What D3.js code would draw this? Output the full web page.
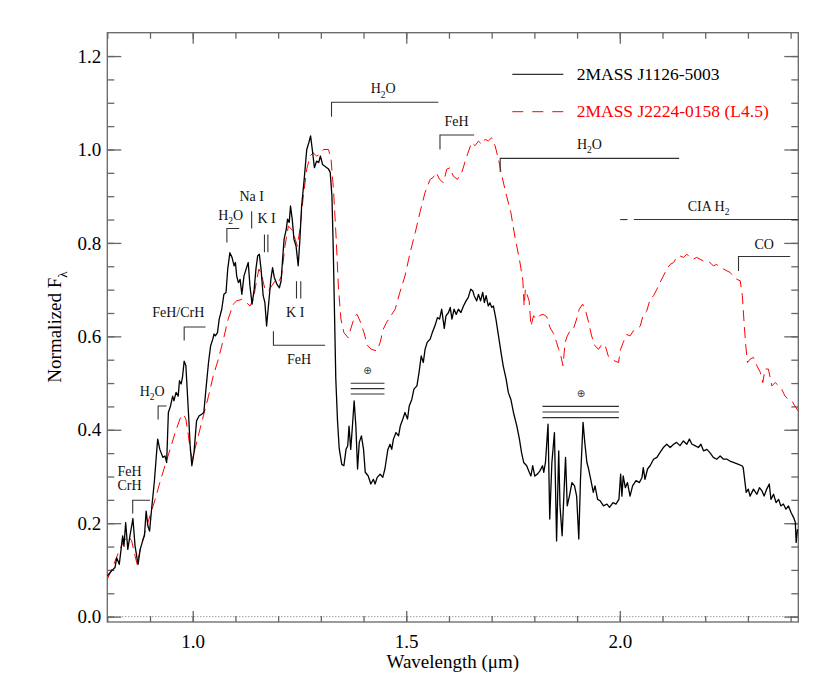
<!DOCTYPE html>
<html>
<head>
<meta charset="utf-8">
<script src="https://cdn.jsdelivr.net/npm/d3@7"></script>
<style>
  body { margin: 0; background: #fff; }
</style>
</head>
<body>
<div class="chart"></div>
<script>
// spectra (wavelength in micron, normalized flux)
var blackWave = [0.800,0.810,0.818,0.822,0.828,0.836,0.839,0.843,0.848,0.853,0.860,0.865,0.872,0.877,0.884,0.887,0.891,0.895,0.899,0.904,
  0.910,0.916,0.918,0.923,0.930,0.935,0.939,0.943,0.948,0.953,0.956,0.961,0.966,0.969,0.973,0.976,0.980,0.984,0.990,0.994,
  0.998,1.003,1.009,1.015,1.021,1.026,1.031,1.037,1.042,1.047,1.050,1.053,1.058,1.062,1.068,1.073,1.078,1.082,1.087,1.092,
  1.097,1.100,1.103,1.107,1.111,1.115,1.120,1.125,1.130,1.134,1.139,1.144,1.148,1.152,1.156,1.160,1.165,1.169,1.173,1.178,
  1.183,1.187,1.191,1.197,1.203,1.207,1.211,1.214,1.219,1.222,1.226,1.229,1.233,1.237,1.242,1.247,1.251,1.255,1.261,1.267,
  1.272,1.276,1.280,1.285,1.290,1.295,1.299,1.304,1.308,1.314,1.318,1.322,1.326,1.329,1.332,1.335,1.339,1.343,1.349,1.354,
  1.359,1.363,1.366,1.370,1.374,1.378,1.382,1.386,1.390,1.395,1.400,1.404,1.411,1.417,1.423,1.427,1.432,1.439,1.445,1.450,
  1.457,1.462,1.466,1.470,1.476,1.482,1.486,1.492,1.497,1.503,1.507,1.513,1.518,1.525,1.530,1.535,1.540,1.544,1.549,1.556,
  1.561,1.567,1.573,1.578,1.583,1.589,1.593,1.599,1.603,1.607,1.612,1.617,1.622,1.628,1.634,1.640,1.645,1.651,1.656,1.659,
  1.665,1.669,1.674,1.679,1.683,1.687,1.692,1.696,1.700,1.704,1.710,1.716,1.722,1.727,1.734,1.739,1.745,1.751,1.759,1.765,
  1.770,1.775,1.782,1.788,1.792,1.796,1.801,1.807,1.813,1.819,1.822,1.826,1.832,1.836,1.841,1.847,1.852,1.857,1.860,1.865,
  1.869,1.873,1.877,1.882,1.888,1.894,1.899,1.904,1.908,1.914,1.918,1.923,1.927,1.932,1.938,1.942,1.948,1.954,1.962,1.970,
  1.976,1.984,1.991,1.998,2.002,2.005,2.008,2.013,2.018,2.024,2.030,2.038,2.046,2.052,2.055,2.059,2.065,2.071,2.079,2.087,
  2.094,2.102,2.110,2.118,2.126,2.133,2.141,2.149,2.157,2.163,2.169,2.176,2.184,2.190,2.196,2.204,2.211,2.219,2.227,2.235,
  2.243,2.251,2.258,2.266,2.278,2.286,2.289,2.296,2.301,2.305,2.313,2.321,2.327,2.333,2.338,2.344,2.350,2.354,2.360,2.366,
  2.372,2.377,2.383,2.389,2.395,2.401,2.407,2.411,2.413,2.416];
var blackFlux = [0.087,0.098,0.105,0.126,0.112,0.173,0.151,0.201,0.144,0.173,0.210,0.151,0.112,0.144,0.166,0.173,0.226,0.194,0.183,0.233,
  0.287,0.358,0.380,0.358,0.341,0.344,0.330,0.437,0.451,0.472,0.462,0.480,0.472,0.505,0.498,0.512,0.547,0.537,0.437,0.366,
  0.323,0.351,0.419,0.430,0.433,0.437,0.487,0.544,0.580,0.594,0.605,0.601,0.608,0.637,0.658,0.690,0.694,0.744,0.779,0.769,
  0.751,0.758,0.729,0.715,0.722,0.690,0.729,0.744,0.758,0.708,0.669,0.701,0.744,0.772,0.776,0.744,0.687,0.672,0.622,0.672,
  0.722,0.747,0.726,0.712,0.704,0.719,0.772,0.808,0.829,0.851,0.844,0.879,0.851,0.808,0.793,0.751,0.808,0.879,0.936,1.000,
  1.015,1.029,1.000,0.961,0.975,0.972,0.986,0.968,0.965,0.961,0.958,0.951,0.900,0.790,0.650,0.510,0.420,0.360,0.326,0.323,
  0.358,0.366,0.408,0.358,0.408,0.462,0.408,0.316,0.373,0.387,0.358,0.309,0.301,0.284,0.294,0.284,0.298,0.305,0.298,0.316,
  0.358,0.369,0.358,0.380,0.394,0.387,0.408,0.423,0.437,0.423,0.451,0.465,0.487,0.494,0.523,0.558,0.544,0.572,0.587,0.594,
  0.608,0.622,0.640,0.637,0.658,0.617,0.644,0.651,0.662,0.637,0.658,0.647,0.658,0.651,0.665,0.676,0.683,0.701,0.697,0.687,
  0.676,0.690,0.676,0.694,0.672,0.687,0.665,0.672,0.662,0.665,0.637,0.601,0.565,0.537,0.508,0.480,0.465,0.437,0.408,0.380,
  0.351,0.330,0.323,0.309,0.301,0.323,0.301,0.305,0.312,0.323,0.309,0.330,0.412,0.209,0.330,0.394,0.162,0.355,0.237,0.173,
  0.258,0.341,0.237,0.258,0.287,0.280,0.258,0.166,0.294,0.416,0.373,0.330,0.316,0.294,0.266,0.280,0.251,0.248,0.237,0.241,
  0.234,0.244,0.241,0.251,0.305,0.258,0.301,0.276,0.287,0.258,0.280,0.291,0.287,0.298,0.319,0.294,0.316,0.323,0.337,0.341,
  0.351,0.362,0.369,0.362,0.369,0.373,0.366,0.376,0.369,0.380,0.369,0.366,0.362,0.369,0.355,0.358,0.351,0.341,0.337,0.344,
  0.337,0.337,0.333,0.330,0.326,0.323,0.319,0.266,0.273,0.258,0.273,0.262,0.276,0.269,0.258,0.273,0.284,0.251,0.262,0.244,
  0.251,0.237,0.241,0.230,0.237,0.223,0.212,0.202,0.159,0.187];

var redWave = [0.800,0.814,0.826,0.837,0.849,0.857,0.865,0.870,0.877,0.888,0.900,0.912,0.923,0.935,0.947,0.959,0.970,0.978,0.984,0.990,
  0.995,1.000,1.005,1.013,1.025,1.037,1.048,1.060,1.072,1.083,1.095,1.103,1.115,1.126,1.134,1.142,1.150,1.155,1.162,1.169,
  1.177,1.185,1.193,1.200,1.208,1.216,1.224,1.232,1.240,1.245,1.251,1.259,1.267,1.275,1.282,1.290,1.298,1.306,1.318,1.324,
  1.330,1.336,1.341,1.347,1.354,1.364,1.372,1.380,1.385,1.393,1.401,1.409,1.419,1.431,1.439,1.446,1.454,1.464,1.474,1.485,
  1.497,1.509,1.521,1.532,1.544,1.556,1.563,1.570,1.578,1.587,1.595,1.603,1.610,1.620,1.630,1.642,1.653,1.661,1.669,1.677,
  1.685,1.692,1.700,1.708,1.716,1.724,1.735,1.745,1.755,1.765,1.773,1.776,1.779,1.788,1.792,1.798,1.806,1.813,1.821,1.829,
  1.837,1.845,1.852,1.857,1.862,1.867,1.872,1.877,1.884,1.891,1.899,1.905,1.913,1.921,1.927,1.934,1.942,1.950,1.958,1.966,
  1.973,1.981,1.989,1.997,2.002,2.008,2.016,2.024,2.032,2.040,2.048,2.055,2.063,2.071,2.079,2.087,2.094,2.102,2.110,2.118,
  2.126,2.133,2.141,2.149,2.157,2.164,2.172,2.180,2.188,2.196,2.204,2.211,2.219,2.227,2.235,2.243,2.251,2.258,2.266,2.274,
  2.282,2.287,2.291,2.295,2.299,2.305,2.313,2.321,2.329,2.335,2.340,2.348,2.356,2.364,2.372,2.379,2.387,2.395,2.403,2.410,
  2.418];
var redFlux = [0.080,0.109,0.137,0.159,0.173,0.162,0.130,0.112,0.144,0.180,0.216,0.251,0.287,0.323,0.358,0.394,0.423,0.433,0.423,0.387,
  0.351,0.337,0.358,0.387,0.430,0.472,0.515,0.551,0.594,0.637,0.669,0.676,0.679,0.672,0.665,0.679,0.722,0.744,0.729,0.701,
  0.697,0.708,0.719,0.715,0.729,0.793,0.836,0.829,0.808,0.793,0.829,0.900,0.958,0.986,0.993,0.986,0.990,1.000,1.000,0.979,
  0.908,0.808,0.708,0.637,0.608,0.597,0.622,0.644,0.647,0.630,0.608,0.580,0.572,0.569,0.587,0.615,0.630,0.644,0.658,0.694,
  0.729,0.779,0.822,0.865,0.908,0.936,0.940,0.951,0.936,0.929,0.958,0.961,0.943,0.936,0.951,0.986,1.015,1.008,1.018,1.011,
  1.022,1.018,1.025,1.008,0.979,0.943,0.900,0.865,0.810,0.765,0.720,0.665,0.701,0.675,0.622,0.644,0.637,0.645,0.647,0.642,
  0.618,0.606,0.587,0.572,0.558,0.537,0.587,0.601,0.612,0.615,0.637,0.658,0.669,0.651,0.630,0.601,0.580,0.572,0.583,0.580,
  0.558,0.551,0.547,0.544,0.572,0.587,0.604,0.601,0.612,0.615,0.622,0.647,0.654,0.679,0.687,0.701,0.715,0.729,0.744,0.754,
  0.758,0.769,0.772,0.769,0.776,0.769,0.765,0.769,0.765,0.761,0.761,0.758,0.751,0.754,0.747,0.744,0.740,0.737,0.729,0.722,
  0.719,0.687,0.630,0.580,0.544,0.551,0.555,0.537,0.523,0.501,0.530,0.530,0.494,0.501,0.494,0.487,0.472,0.465,0.462,0.451,
  0.440];

var seriesNames = ["2MASS J1126-5003", "2MASS J2224-0158 (L4.5)"];
var seriesColors = ["#000000", "#ff0000"];

var xMajorTicks = [1.0, 1.5, 2.0];
var yMajorTicks = [0.0, 0.2, 0.4, 0.6, 0.8, 1.0, 1.2];

// feature brackets: [x1, x2, y, y of the end tick at x1]
var brackets = [
  [0.8595, 0.900, 0.249, 0.221],
  [0.919, 0.939, 0.451, 0.422],
  [0.980, 1.030, 0.620, 0.591],
  [1.080, 1.109, 0.831, 0.801],
  [1.189, 1.310, 0.581, 0.611],
  [1.325, 1.575, 1.101, 1.070],
  [1.579, 1.659, 1.031, 1.000],
  [1.720, 2.139, 0.981, 0.952],
  [2.278, 2.399, 0.771, 0.740]
];
// single atomic lines: [x, y1, y2]
var lineMarks = [
  [1.138, 0.868, 0.831],
  [1.168, 0.818, 0.780],
  [1.176, 0.818, 0.780],
  [1.243, 0.718, 0.681],
  [1.253, 0.718, 0.681]
];
// CIA H2 band: [x1, x2] segments at one level
var ciaSegments = [[2.001, 2.018], [2.033, 2.418]];
var ciaLevel = 0.850;
// labels: [text, x, baseline y]  ("_" marks a subscript character)
var featureLabels = [
  ["FeH", 0.852, 0.302],
  ["CrH", 0.852, 0.271],
  ["H_2O", 0.905, 0.472],
  ["FeH/CrH", 0.966, 0.641],
  ["H_2O", 1.089, 0.850],
  ["Na I", 1.138, 0.890],
  ["K I", 1.173, 0.842],
  ["K I", 1.240, 0.641],
  ["FeH", 1.249, 0.541],
  ["H_2O", 1.446, 1.120],
  ["FeH", 1.618, 1.050],
  ["H_2O", 1.929, 1.002],
  ["CIA H_2", 2.208, 0.868],
  ["CO", 2.338, 0.788]
];
// telluric bands: [x1, x2, symbol x, symbol y, line levels]
var telluric = [
  [1.370, 1.449, 1.409, 0.527, [0.4995, 0.488, 0.4766]],
  [1.819, 1.998, 1.909, 0.477, [0.450, 0.438, 0.426]]
];

var serifFont = "'Liberation Serif'";

var svgWidth = 830;
var svgHeight = 691;
var margin = { top: 32.7, right: 31.7, bottom: 69, left: 107.3 };
var width = svgWidth - margin.left - margin.right;
var height = svgHeight - margin.top - margin.bottom;

var svg = d3.select(".chart")
  .append("svg")
  .attr("width", svgWidth)
  .attr("height", svgHeight);

var chartGroup = svg.append("g")
  .attr("transform", `translate(${margin.left}, ${margin.top})`);

var xScale = d3.scaleLinear().domain([0.8, 2.418]).range([0, width]);
var yScale = d3.scaleLinear().domain([-0.0115, 1.25]).range([height, 0]);

var frameColor = "#666";

// clip the spectra to the frame
svg.append("defs").append("clipPath").attr("id", "plotClip")
  .append("rect").attr("width", width).attr("height", height);

// dotted zero line
chartGroup.append("line")
  .attr("x1", 0).attr("x2", width)
  .attr("y1", yScale(0)).attr("y2", yScale(0))
  .attr("stroke", "#777")
  .attr("stroke-width", 1)
  .attr("stroke-dasharray", "1,2");

// axes: minor ticks first, then majors
function styleAxis(g) {
  g.select(".domain").remove();
  g.selectAll("line").attr("stroke", frameColor).attr("stroke-width", 1.3);
  g.selectAll("text")
    .attr("fill", "#000")
    .style("font-family", serifFont)
    .style("font-size", "19px");
}

var xMinor = d3.range(8, 25).map(d => d / 10);
var yMinor = d3.range(0, 25).map(d => d / 20);

chartGroup.append("g").attr("transform", `translate(0, ${height})`)
  .call(d3.axisBottom(xScale).tickValues(xMinor).tickSizeInner(-6).tickSizeOuter(0).tickFormat(""))
  .call(styleAxis);
chartGroup.append("g").attr("transform", `translate(0, ${height})`)
  .call(d3.axisBottom(xScale).tickValues(xMajorTicks).tickSizeInner(-11).tickSizeOuter(0)
    .tickPadding(12.5).tickFormat(d3.format(".1f")))
  .call(styleAxis);
chartGroup.append("g")
  .call(d3.axisTop(xScale).tickValues(xMinor).tickSizeInner(-6).tickSizeOuter(0).tickFormat(""))
  .call(styleAxis);
chartGroup.append("g")
  .call(d3.axisTop(xScale).tickValues(xMajorTicks).tickSizeInner(-11).tickSizeOuter(0).tickFormat(""))
  .call(styleAxis);

chartGroup.append("g")
  .call(d3.axisLeft(yScale).tickValues(yMinor).tickSizeInner(-7).tickSizeOuter(0).tickFormat(""))
  .call(styleAxis);
chartGroup.append("g")
  .call(d3.axisLeft(yScale).tickValues(yMajorTicks).tickSizeInner(-14).tickSizeOuter(0)
    .tickPadding(6).tickFormat(d3.format(".1f")))
  .call(styleAxis);
chartGroup.append("g").attr("transform", `translate(${width}, 0)`)
  .call(d3.axisRight(yScale).tickValues(yMinor).tickSizeInner(-7).tickSizeOuter(0).tickFormat(""))
  .call(styleAxis);
chartGroup.append("g").attr("transform", `translate(${width}, 0)`)
  .call(d3.axisRight(yScale).tickValues(yMajorTicks).tickSizeInner(-14).tickSizeOuter(0).tickFormat(""))
  .call(styleAxis);

// frame
chartGroup.append("rect")
  .attr("width", width).attr("height", height)
  .attr("fill", "none")
  .attr("stroke", frameColor)
  .attr("stroke-width", 1.3);

// spectra
var line = d3.line()
  .x(d => xScale(d[0]))
  .y(d => yScale(d[1]));

var redData = d3.zip(redWave, redFlux);
var blackData = d3.zip(blackWave, blackFlux);

var spectra = chartGroup.append("g").attr("clip-path", "url(#plotClip)");

spectra.append("path")
  .datum(redData)
  .attr("d", line)
  .attr("fill", "none")
  .attr("stroke", seriesColors[1])
  .attr("stroke-width", 1)
  .attr("stroke-dasharray", "11,6");

spectra.append("path")
  .datum(blackData)
  .attr("d", line)
  .attr("fill", "none")
  .attr("stroke", seriesColors[0])
  .attr("stroke-width", 1.3)
  .attr("stroke-linejoin", "round");

// text with an optional subscript
function addText(g, str, x, y, size, anchor) {
  var t = g.append("text")
    .attr("x", x).attr("y", y)
    .attr("text-anchor", anchor || "middle")
    .style("font-family", serifFont)
    .style("font-size", size + "px");
  var parts = str.split(/_(.)/);
  var shift = size * 0.3;
  parts.forEach(function(p, i) {
    if (!p) return;
    if (i % 2 === 1) {
      t.append("tspan").attr("dy", shift).style("font-size", (size * 0.68) + "px").text(p);
    } else {
      t.append("tspan").attr("dy", i > 0 ? -shift : 0).text(p);
    }
  });
  return t;
}

// feature annotations
var annoColor = "#333";
var anno = chartGroup.append("g")
  .attr("stroke", annoColor)
  .attr("stroke-width", 1.1)
  .attr("fill", "none");

brackets.forEach(function(b) {
  anno.append("path")
    .attr("d", `M${xScale(b[0])},${yScale(b[3])}V${yScale(b[2])}H${xScale(b[1])}`);
});

lineMarks.forEach(function(m) {
  anno.append("line")
    .attr("x1", xScale(m[0])).attr("x2", xScale(m[0]))
    .attr("y1", yScale(m[1])).attr("y2", yScale(m[2]));
});

ciaSegments.forEach(function(s) {
  anno.append("line")
    .attr("x1", xScale(s[0])).attr("x2", xScale(s[1]))
    .attr("y1", yScale(ciaLevel)).attr("y2", yScale(ciaLevel));
});

telluric.forEach(function(t) {
  t[4].forEach(function(lv) {
    anno.append("line")
      .attr("x1", xScale(t[0])).attr("x2", xScale(t[1]))
      .attr("y1", yScale(lv)).attr("y2", yScale(lv));
  });
  chartGroup.append("text")
    .attr("x", xScale(t[2])).attr("y", yScale(t[3]))
    .attr("text-anchor", "middle")
    .attr("dy", "0.35em")
    .attr("fill", "#333")
    .style("font-family", "'DejaVu Sans'")
    .style("font-size", "10px")
    .text("\u2295");
});

var labelGroup = chartGroup.append("g").attr("fill", "#111");
featureLabels.forEach(function(l) {
  addText(labelGroup, l[0], xScale(l[1]), yScale(l[2]), 14);
});

// legend
var legend = svg.append("g");
seriesNames.forEach(function(name, i) {
  var ly = 74.3 + i * 37.4;
  legend.append("line")
    .attr("x1", 512.3).attr("x2", 563.3)
    .attr("y1", ly).attr("y2", ly)
    .attr("stroke", i === 0 ? "#333" : seriesColors[1])
    .attr("stroke-width", i === 0 ? 1.3 : 1)
    .attr("stroke-dasharray", i === 0 ? null : "11,9");
  legend.append("text")
    .attr("x", 576.7).attr("y", ly + 5.2)
    .attr("fill", seriesColors[i])
    .style("font-family", serifFont)
    .style("font-size", "17.5px")
    .text(name);
});

// axis titles
addText(svg, "Wavelength (\u03bcm)", margin.left + width / 2, 668, 19);

addText(svg.append("g").attr("transform", "translate(61, 327) rotate(-90)"),
  "Normalized F_\u03bb", 0, 0, 19);
</script>
</body>
</html>
